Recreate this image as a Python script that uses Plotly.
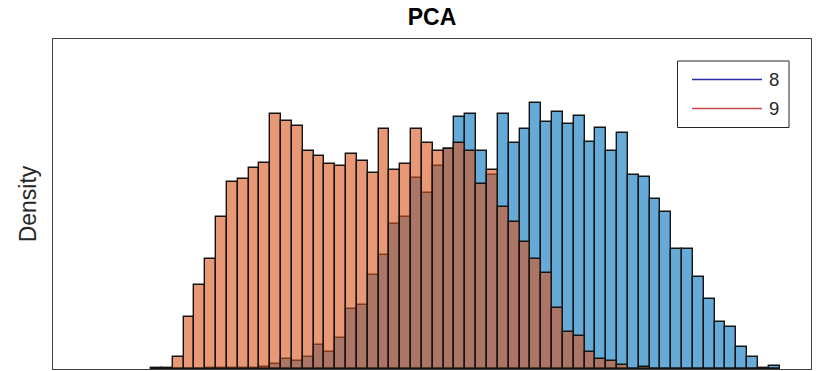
import plotly.graph_objects as go

# Histogram bin centres (PCA projection, arbitrary units)
bin_start = -2.9
bin_width = 0.1
n_bins = 58
bin_centers = [round(bin_start + bin_width * (i + 0.5), 4) for i in range(n_bins)]

# Density values (arbitrary scale)
density_8 = [0.000, 0.000, 0.0003, 0.0005, 0.0005, 0.0008, 0.001, 0.001, 0.0015, 0.0015,
             0.002, 0.005, 0.0103, 0.0085, 0.0123, 0.024, 0.0173, 0.0313, 0.0597, 0.064,
             0.094, 0.114, 0.145, 0.1523, 0.1907, 0.1763, 0.2033, 0.220, 0.2517, 0.255,
             0.2183, 0.194, 0.255, 0.2257, 0.2397, 0.2657, 0.2467, 0.2567, 0.245, 0.2533,
             0.2273, 0.2407, 0.2183, 0.2357, 0.194, 0.1917, 0.1697, 0.1567, 0.120, 0.120,
             0.0923, 0.0697, 0.0467, 0.0417, 0.0225, 0.0117, 0.0015, 0.003]
density_9 = [0.0015, 0.0015, 0.0117, 0.0523, 0.084, 0.1097, 0.1523, 0.1873, 0.1903, 0.2007,
             0.2063, 0.255, 0.2483, 0.243, 0.2183, 0.213, 0.2047, 0.203, 0.215, 0.208,
             0.1957, 0.2397, 0.199, 0.2047, 0.2397, 0.2257, 0.2183, 0.220, 0.2257, 0.2183,
             0.185, 0.199, 0.1623, 0.1467, 0.1273, 0.1097, 0.0963, 0.0607, 0.0373, 0.0327,
             0.0167, 0.0097, 0.008, 0.0045, 0.0005, 0.0017, 0, 0, 0, 0,
             0, 0, 0, 0, 0, 0, 0, 0]

legend_names = ["8", "9"]
legend_colors = ["rgb(45,45,170)", "rgb(200,72,72)"]

fig = go.Figure()
fig.add_trace(go.Bar(
    x=bin_centers, y=density_8, width=bin_width, name=legend_names[0],
    marker=dict(color="rgba(0,114,189,0.6)", line=dict(color="rgba(20,20,20,1)", width=1.4)),
    showlegend=False,
))
fig.add_trace(go.Bar(
    x=bin_centers, y=density_9, width=bin_width, name=legend_names[1],
    marker=dict(color="rgba(217,83,25,0.6)", line=dict(color="rgba(20,20,20,1)", width=1.4)),
    showlegend=False,
))

# Manual legend (line samples + labels), in paper coordinates
L, T = 53, 39
W, H = 817 - 6 - 53, 371 - 2 - 39
def px(x):
    return (x - L) / W
def py(y):
    return 1 - (y - T) / H

shapes = [dict(type="rect", xref="paper", yref="paper",
               x0=px(677.5), x1=px(789), y0=py(61), y1=py(127.5),
               line=dict(color="#262626", width=1), fillcolor="white", layer="above")]
annotations = []
for k, (nm, col) in enumerate(zip(legend_names, legend_colors)):
    yy = 79.5 + k * 29
    shapes.append(dict(type="line", xref="paper", yref="paper",
                       x0=px(692), x1=px(762), y0=py(yy), y1=py(yy),
                       line=dict(color=col, width=1.6), layer="above"))
    annotations.append(dict(xref="paper", yref="paper", x=px(767), y=py(yy),
                            text=nm, showarrow=False, xanchor="left", yanchor="middle",
                            font=dict(size=18.5, color="#262626",
                                      family="Liberation Sans, Arial, sans-serif")))

fig.update_layout(
    width=817, height=371,
    margin=dict(l=53, r=6, t=39, b=2),
    paper_bgcolor="white", plot_bgcolor="white",
    barmode="overlay", bargap=0,
    title=dict(text="<b>PCA</b>", x=(53 + 811) / 2 / 817, xanchor="center",
               y=1 - 25 / 371, yanchor="bottom",
               font=dict(size=23, color="black", family="Liberation Sans, Arial, sans-serif")),
    xaxis=dict(range=[bin_start - 9.05 * bin_width, bin_start + 60.9 * bin_width],
               showticklabels=False, ticks="", showgrid=False, zeroline=False,
               showline=True, mirror=True, linecolor="#404040", linewidth=1.2),
    yaxis=dict(range=[0, 0.330], showticklabels=False, ticks="", showgrid=False, zeroline=False,
               showline=True, mirror=True, linecolor="#404040", linewidth=1.2,
               title=dict(text="Density", standoff=8,
                          font=dict(size=23, color="#262626",
                                    family="Liberation Sans, Arial, sans-serif"))),
    shapes=shapes, annotations=annotations,
)

fig.write_html("out.html")
